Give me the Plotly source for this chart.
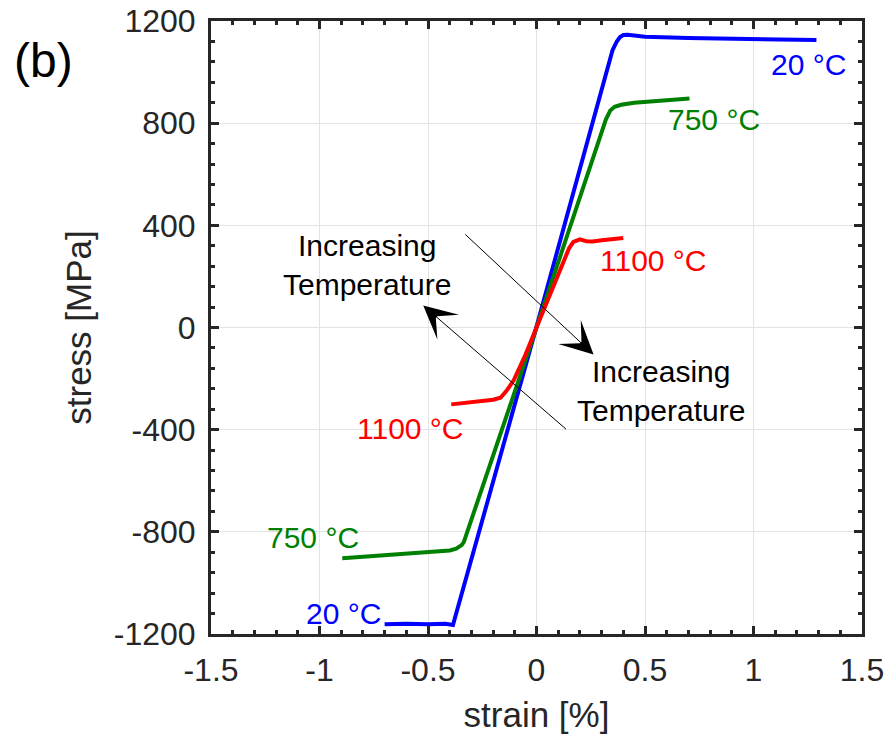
import plotly.graph_objects as go

# ---- data (strain [%], stress [MPa]) ----
blue_x = [-0.70, -0.60, -0.50, -0.42, -0.385, 0.0, 0.35, 0.37, 0.385, 0.40, 0.42, 0.45, 0.50, 0.70, 0.90, 1.10, 1.29]
blue_y = [-1162, -1160, -1162, -1160, -1165, 3, 1085, 1120, 1137, 1145, 1146, 1142, 1138, 1133, 1130, 1128, 1126]

green_x = [-0.895, -0.80, -0.60, -0.45, -0.40, -0.37, -0.345, -0.335, 0.0, 0.32, 0.34, 0.36, 0.39, 0.45, 0.55, 0.705]
green_y = [-903, -897, -885, -878, -873, -866, -852, -840, 0, 815, 850, 864, 872, 880, 887, 897]

red_x = [-0.393, -0.30, -0.20, -0.166, -0.14, -0.105, -0.05, 0.0, 0.05, 0.11, 0.15, 0.17, 0.20, 0.23, 0.26, 0.30, 0.35, 0.40]
red_y = [-301, -292, -283, -275, -250, -207, -105, 0, 105, 236, 310, 335, 345, 338, 337, 342, 345, 350]

x_ticks = [-1.5, -1, -0.5, 0, 0.5, 1, 1.5]
x_ticklabels = ["-1.5", "-1", "-0.5", "0", "0.5", "1", "1.5"]
y_ticks = [-1200, -800, -400, 0, 400, 800, 1200]
y_ticklabels = ["-1200", "-800", "-400", "0", "400", "800", "1200"]

labels = [
    ("20 °C", 1.253, 1028, "#0000ff"),
    ("750 °C", 0.820, 813, "#008000"),
    ("1100 °C", 0.539, 262, "#ff0000"),
    ("1100 °C", -0.581, -395, "#ff0000"),
    ("750 °C", -1.028, -821, "#008000"),
    ("20 °C", -0.889, -1118, "#0000ff"),
    ("Increasing<br>Temperature", -0.783, 246, "black"),
    ("Increasing<br>Temperature", 0.576, -250, "black"),
]
# arrows: (head_x, head_y, tail_x, tail_y)
arrows = [
    (0.263, -106, -0.335, 370),
    (-0.522, 86, 0.143, -403),
]

FONT = "Liberation Sans, Arial, sans-serif"
AX = "#262626"
W, H = 890, 740
ML, MR, MT, MB = 211, 28, 21, 106
PW, PH = W - ML - MR, H - MT - MB

fig = go.Figure()
fig.add_trace(go.Scatter(x=blue_x, y=blue_y, mode="lines",
                         line=dict(color="#0000ff", width=4), showlegend=False))
fig.add_trace(go.Scatter(x=green_x, y=green_y, mode="lines",
                         line=dict(color="#008000", width=4), showlegend=False))
fig.add_trace(go.Scatter(x=red_x, y=red_y, mode="lines",
                         line=dict(color="#ff0000", width=4), showlegend=False))
# empty trace to activate the mirrored (top/right) tick axes
fig.add_trace(go.Scatter(x=[None], y=[None], xaxis="x2", yaxis="y2",
                         mode="lines", showlegend=False, hoverinfo="skip"))

for txt, x, y, c in labels:
    fig.add_annotation(x=x, y=y, text=txt, showarrow=False, xref="x", yref="y",
                       xanchor="center", yanchor="middle",
                       font=dict(family=FONT, size=30, color=c))

for hx, hy, tx, ty in arrows:
    fig.add_annotation(x=hx, y=hy, ax=tx, ay=ty, xref="x", yref="y",
                       axref="x", ayref="y", text="", showarrow=True,
                       arrowhead=3, arrowsize=5.5, arrowwidth=1, arrowcolor="black")

fig.add_annotation(xref="paper", yref="paper", x=(43 - ML) / PW, y=(H - MB - 60) / PH,
                   xanchor="center", yanchor="middle", text="(b)", showarrow=False,
                   font=dict(family=FONT, size=48, color="black"))

common = dict(
    showline=True, linewidth=3, linecolor=AX, mirror=True,
    ticks="inside", ticklen=8, tickwidth=3, tickcolor=AX,
    zeroline=False, automargin=False,
)
tickfont = dict(family=FONT, size=32, color=AX)
titlefont = dict(family=FONT, size=35, color=AX)

fig.update_layout(
    xaxis=dict(**common, range=[-1.5, 1.5], tickvals=x_ticks, ticktext=x_ticklabels,
               showgrid=True, gridcolor="#e3e3e3", gridwidth=1,
               minor=dict(dtick=0.1, tick0=0, ticks="inside", ticklen=4, tickwidth=3,
                          tickcolor=AX, showgrid=False),
               tickfont=tickfont, title=dict(text="strain [%]", font=titlefont, standoff=16),
               ticklabelstandoff=6),
    yaxis=dict(**common, range=[-1200, 1200], tickvals=y_ticks, ticktext=y_ticklabels,
               showgrid=True, gridcolor="#e3e3e3", gridwidth=1,
               minor=dict(dtick=80, tick0=0, ticks="inside", ticklen=4, tickwidth=3,
                          tickcolor=AX, showgrid=False),
               tickfont=tickfont, title=dict(text="stress [MPa]", font=titlefont, standoff=12),
               ticklabelstandoff=6),
    xaxis2=dict(**common, overlaying="x", side="top", range=[-1.5, 1.5], tickvals=x_ticks,
                showticklabels=False, showgrid=False,
                minor=dict(dtick=0.1, tick0=0, ticks="inside", ticklen=4, tickwidth=3,
                           tickcolor=AX, showgrid=False)),
    yaxis2=dict(**common, overlaying="y", side="right", range=[-1200, 1200], tickvals=y_ticks,
                showticklabels=False, showgrid=False,
                minor=dict(dtick=80, tick0=0, ticks="inside", ticklen=4, tickwidth=3,
                           tickcolor=AX, showgrid=False)),
    width=W, height=H, margin=dict(l=ML, r=MR, t=MT, b=MB),
    paper_bgcolor="white", plot_bgcolor="white",
)

fig.write_html("out.html")
